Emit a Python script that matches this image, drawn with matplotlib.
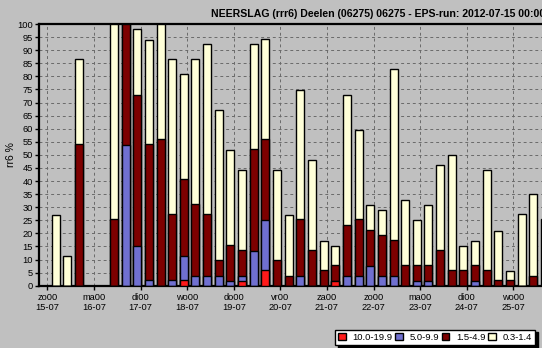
import matplotlib

matplotlib.use("Agg")
import matplotlib.pyplot as plt
import numpy as np
from matplotlib.patches import Patch

plt.rcParams["font.family"] = ["Liberation Sans", "DejaVu Sans"]

# lead time of each 6-hourly bar (hours after 2012-07-15 00 UTC)
lead_h = np.arange(6, 6 * 44, 6)

# exceedance probabilities (%) per class
p_03 = [27.0, 11.5, 86.5, 0, 0, 100, 100, 98.0, 94.0, 100, 86.5, 80.8, 86.5, 92.2,
        67.0, 51.8, 44.1, 92.2, 94.1, 44.1, 27.0, 74.7, 48.0, 17.2, 15.1, 72.8, 59.4,
        30.8, 28.9, 82.7, 32.7, 25.1, 30.8, 46.1, 49.9, 15.1, 17.2, 44.1, 20.9, 5.7,
        27.4, 35.0, 25.3]
p_15 = [0, 0, 54.0, 0, 0, 25.3, 100, 73.0, 54.0, 56.0, 27.4, 40.7, 31.3, 27.4,
        9.8, 15.5, 13.6, 52.2, 56.0, 9.8, 3.8, 25.3, 13.6, 6.0, 7.9, 23.2, 25.3,
        21.2, 19.3, 17.4, 7.9, 7.9, 7.9, 13.6, 6.0, 6.0, 7.9, 6.0, 2.2, 2.2,
        0, 3.8, 0]
p_50 = [0, 0, 0, 0, 0, 0, 53.8, 15.1, 2.2, 0, 2.2, 11.5, 3.8, 3.8,
        3.8, 1.9, 3.8, 13.4, 25.0, 0, 0, 3.8, 0, 0, 1.9, 3.8, 3.8,
        7.6, 3.8, 3.8, 0, 1.9, 1.9, 0, 0, 0, 1.9, 0, 0, 0,
        0, 0, 0]
p_100 = [0, 0, 0, 0, 0, 0, 0, 0, 0, 0, 0, 2.2, 0, 0,
         0, 0, 1.9, 0, 6.0, 0, 0, 0, 0, 0, 1.9, 0, 0,
         0, 0, 0, 0, 0, 0, 0, 0, 0, 0, 0, 0, 0,
         0, 0, 0]

day_labels = ["zo00\n15-07", "ma00\n16-07", "di00\n17-07", "wo00\n18-07", "do00\n19-07",
              "vr00\n20-07", "za00\n21-07", "zo00\n22-07", "ma00\n23-07", "di00\n24-07",
              "wo00\n25-07"]

classes = [
    ("10.0-19.9", "#ff1a1a"),
    ("5.0-9.9", "#7070d0"),
    ("1.5-4.9", "#7d0000"),
    ("0.3-1.4", "#ffffd8"),
]

BG = "#c0c0c0"
W_PX, H_PX = 542, 348
PX_PER_DAY = 46.6

fig = plt.figure(figsize=(W_PX / 100, H_PX / 100), dpi=100, facecolor=BG)
ax_w = 560
ax = fig.add_axes([39.3 / W_PX, (H_PX - 285.7) / H_PX, ax_w / W_PX, (285.7 - 24) / H_PX])
ax.set_facecolor(BG)

x = lead_h / 24.0 - 0.07
width = 8 / PX_PER_DAY
for vals, (_, col) in zip([p_03, p_15, p_50, p_100], classes[::-1]):
    ax.bar(x, vals, width=width, color=col, edgecolor="black", linewidth=1.0, zorder=3)

ax.set_xlim(-8 / PX_PER_DAY, -8 / PX_PER_DAY + ax_w / PX_PER_DAY)
ax.set_ylim(0, 100)
ax.set_xticks(np.arange(len(day_labels)))
ax.set_xticklabels(day_labels, fontsize=6.7, linespacing=1.15)
ax.set_yticks(np.arange(0, 101, 5))
ax.tick_params(axis="y", labelsize=6.7, length=3, width=1, pad=1.5)
ax.tick_params(axis="x", length=3, width=1, pad=2.5)
ax.grid(True, color="#6a6a6a", linestyle=(0, (3, 3)), linewidth=0.7)
ax.set_axisbelow(True)

for side in ["left", "bottom", "top"]:
    ax.spines[side].set_linewidth(1.6)
    ax.spines[side].set_color("black")

fig.text(11 / W_PX, 1 - 155 / H_PX, "rr6 %", rotation=90, ha="center", va="center", fontsize=7.5)
fig.text(210.7 / W_PX, 1 - 13.8 / H_PX,
         "NEERSLAG (rrr6) Deelen (06275) 06275 - EPS-run: 2012-07-15 00:00",
         ha="left", va="center", fontsize=7.6, fontweight="bold")

handles = [Patch(facecolor=c, edgecolor="black", linewidth=1.0, label=l) for l, c in classes]
leg = fig.legend(handles=handles, ncol=4, loc="center",
                 bbox_to_anchor=(435 / W_PX, 1 - 337.5 / H_PX),
                 fontsize=6.8, frameon=True, fancybox=False, shadow={"color": "black", "alpha": 1},
                 handlelength=0.8, handleheight=0.8, handletextpad=0.7,
                 columnspacing=0.3, borderpad=0.35, edgecolor="black", facecolor="white",
                 framealpha=1)
leg.get_frame().set_linewidth(1.0)

fig.savefig("out.png", dpi=100, facecolor=BG)
